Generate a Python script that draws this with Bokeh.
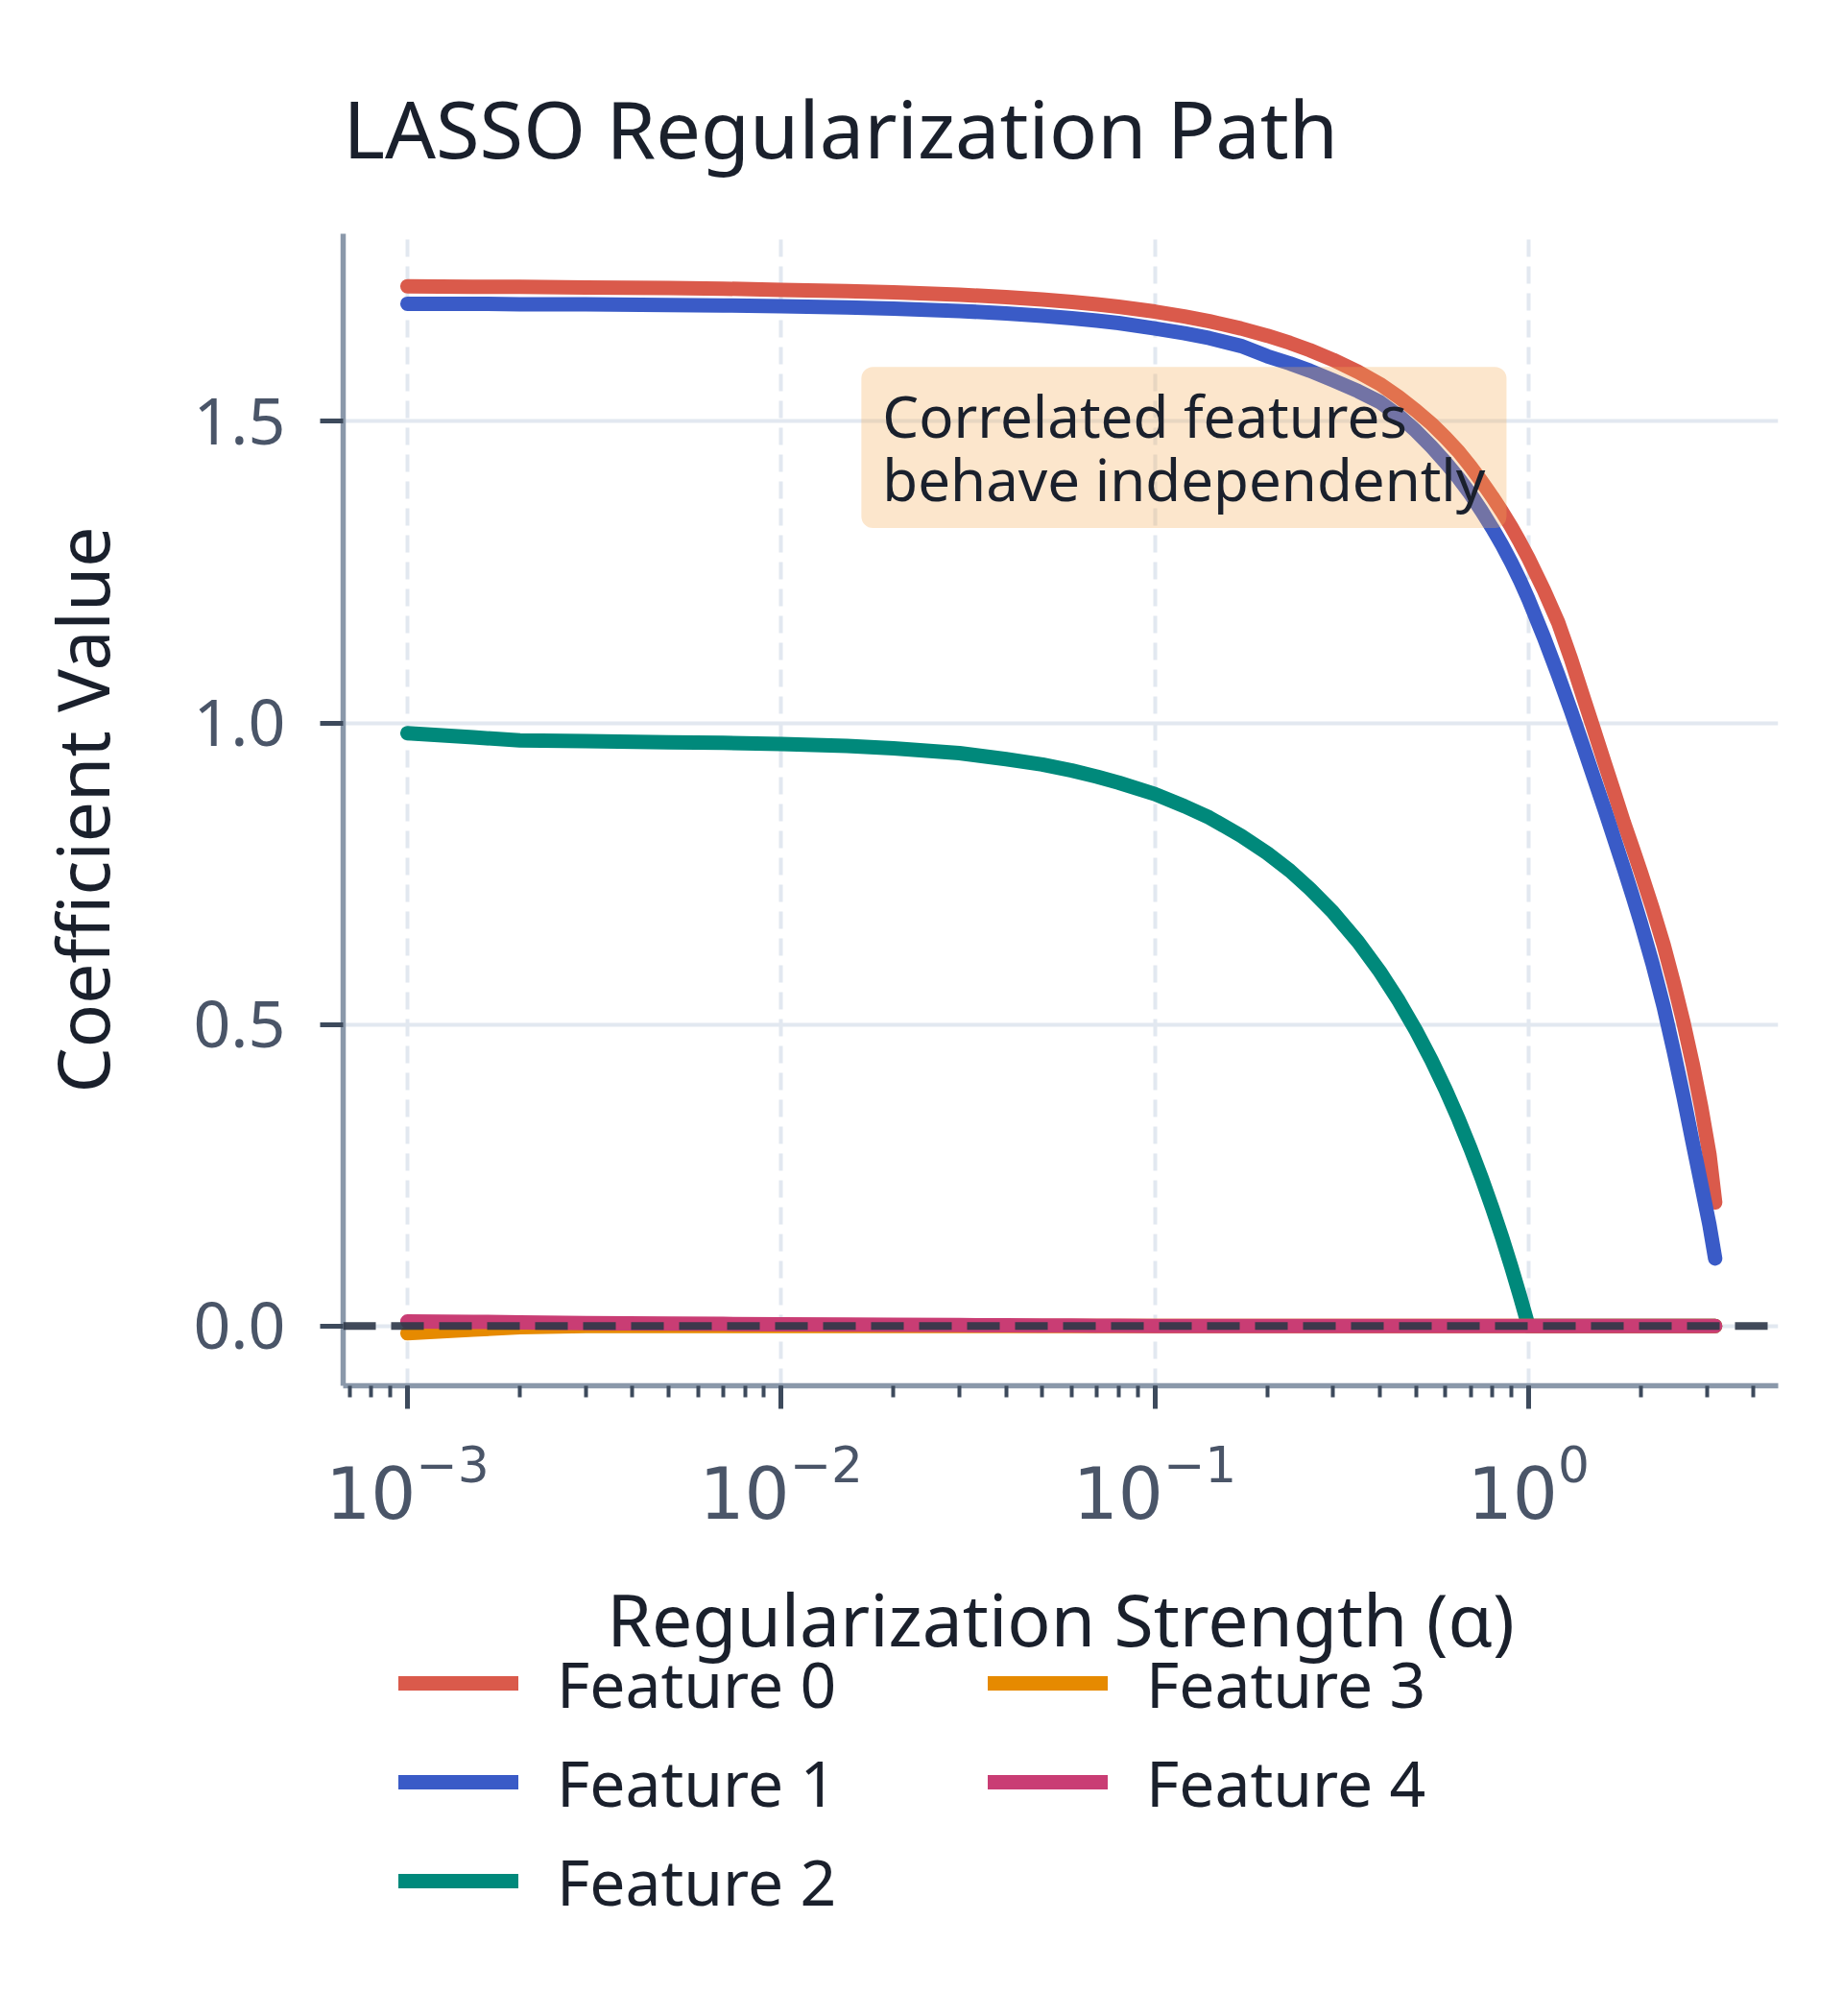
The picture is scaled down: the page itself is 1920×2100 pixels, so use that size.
from bokeh.plotting import figure
from bokeh.layouts import column
from bokeh.models import (Range1d, Span, Label, Legend, LegendItem,
                          FixedTicker, PrintfTickFormatter)
from bokeh.embed import file_html
from bokeh.resources import INLINE

# regularization strengths (alpha) and coefficient values
alphas = [0.001, 0.0015, 0.002, 0.003, 0.005, 0.007, 0.01, 0.015, 0.02, 0.03,
          0.04, 0.05, 0.06, 0.07, 0.08, 0.1, 0.12, 0.14, 0.17, 0.2, 0.23,
          0.26, 0.3, 0.35, 0.4, 0.45, 0.5, 0.55, 0.6, 0.65, 0.7, 0.75, 0.8,
          0.85, 0.9, 0.95, 1.0, 1.1, 1.2, 1.3, 1.4, 1.5, 1.6, 1.7, 1.8, 1.9,
          2.0, 2.15, 2.3, 2.45, 2.6, 2.75, 2.9, 3.05, 3.16]

feature_0 = [1.724, 1.723, 1.723, 1.722, 1.721, 1.720, 1.718, 1.716, 1.714,
             1.710, 1.706, 1.702, 1.698, 1.694, 1.690, 1.682, 1.674, 1.666,
             1.654, 1.642, 1.630, 1.618, 1.602, 1.582, 1.562, 1.540, 1.518,
             1.496, 1.473, 1.450, 1.425, 1.400, 1.375, 1.350, 1.325, 1.299,
             1.273, 1.220, 1.167, 1.106, 1.044, 0.987, 0.933, 0.883, 0.835,
             0.793, 0.752, 0.692, 0.632, 0.568, 0.503, 0.435, 0.363, 0.285,
             0.205]
feature_1 = [1.695, 1.695, 1.694, 1.694, 1.693, 1.692, 1.691, 1.689, 1.687,
             1.683, 1.679, 1.675, 1.671, 1.667, 1.663, 1.654, 1.646, 1.638,
             1.625, 1.608, 1.596, 1.584, 1.568, 1.550, 1.532, 1.509, 1.484,
             1.458, 1.432, 1.406, 1.379, 1.351, 1.323, 1.295, 1.266, 1.236,
             1.205, 1.142, 1.080, 1.020, 0.962, 0.907, 0.856, 0.806, 0.759,
             0.713, 0.668, 0.600, 0.530, 0.455, 0.380, 0.305, 0.235, 0.168,
             0.112]
feature_2 = [0.983, 0.976, 0.971, 0.970, 0.968, 0.967, 0.965, 0.962, 0.958,
             0.950, 0.940, 0.931, 0.921, 0.911, 0.901, 0.882, 0.862, 0.843,
             0.813, 0.784, 0.755, 0.725, 0.686, 0.637, 0.588, 0.539, 0.490,
             0.441, 0.392, 0.343, 0.294, 0.245, 0.196, 0.147, 0.098, 0.049,
             0.0, 0.0, 0.0, 0.0, 0.0, 0.0, 0.0, 0.0, 0.0,
             0.0, 0.0, 0.0, 0.0, 0.0, 0.0, 0.0, 0.0, 0.0,
             0.0]
feature_3 = [-0.012, -0.006, -0.002, 0.0, 0.0, 0.0, 0.0, 0.0, 0.0,
             0.0, 0.0, 0.0, 0.0, 0.0, 0.0, 0.0, 0.0, 0.0,
             0.0, 0.0, 0.0, 0.0, 0.0, 0.0, 0.0, 0.0, 0.0,
             0.0, 0.0, 0.0, 0.0, 0.0, 0.0, 0.0, 0.0, 0.0,
             0.0, 0.0, 0.0, 0.0, 0.0, 0.0, 0.0, 0.0, 0.0,
             0.0, 0.0, 0.0, 0.0, 0.0, 0.0, 0.0, 0.0, 0.0,
             0.0]
feature_4 = [0.0075, 0.007, 0.006, 0.005, 0.004, 0.0035, 0.003, 0.0025, 0.002,
             0.0015, 0.0012, 0.001, 0.0008, 0.0006, 0.0004, 0.0, 0.0, 0.0,
             0.0, 0.0, 0.0, 0.0, 0.0, 0.0, 0.0, 0.0, 0.0,
             0.0, 0.0, 0.0, 0.0, 0.0, 0.0, 0.0, 0.0, 0.0,
             0.0, 0.0, 0.0, 0.0, 0.0, 0.0, 0.0, 0.0, 0.0,
             0.0, 0.0, 0.0, 0.0, 0.0, 0.0, 0.0, 0.0, 0.0,
             0.0]

names = ["Feature 0", "Feature 1", "Feature 2", "Feature 3", "Feature 4"]
series = [feature_0, feature_1, feature_2, feature_3, feature_4]
colors = ["#da5a4b", "#3a5bc7", "#00897b", "#e68a00", "#c93d74"]

y_ticks = [0.0, 0.5, 1.0, 1.5]

FONT = "Noto Sans"
DARK = "#1a202c"
LEFT, FRAME_W, RIGHT = 357, 1495, 40

p = figure(title="LASSO Regularization Path", x_axis_type="log",
           x_range=Range1d(6.73e-4, 4.66), y_range=Range1d(-0.099, 1.811),
           frame_width=FRAME_W, frame_height=1200,
           min_border_left=LEFT, min_border_top=243,
           min_border_bottom=155, min_border_right=RIGHT,
           output_backend="svg", toolbar_location=None,
           y_axis_label="Coefficient Value")

p.outline_line_color = None
p.title.text_font = FONT
p.title.text_font_size = "83px"
p.title.text_font_style = "normal"
p.title.text_color = DARK
p.title.align = "left"
p.title.standoff = 110

# grid
p.xgrid.grid_line_color = "#e2e8f0"
p.xgrid.grid_line_width = 4
p.xgrid.grid_line_dash = "18 10"
p.ygrid.grid_line_color = "#e2e8f0"
p.ygrid.grid_line_width = 4

# axes
for ax in (p.xaxis[0], p.yaxis[0]):
    ax.axis_line_color = "#8a98aa"
    ax.axis_line_width = 5.5
    ax.major_tick_line_color = "#3d4a5c"
    ax.major_tick_line_width = 5
    ax.major_tick_in = 0
    ax.major_tick_out = 24
    ax.minor_tick_line_color = "#3d4a5c"
    ax.minor_tick_line_width = 4
    ax.minor_tick_in = 0
    ax.minor_tick_out = 12
    ax.major_label_text_font = FONT
    ax.major_label_text_color = "#4a5568"
    ax.axis_label_text_font = FONT
    ax.axis_label_text_font_size = "75px"
    ax.axis_label_text_font_style = "normal"
    ax.axis_label_text_color = DARK

p.yaxis.ticker = FixedTicker(ticks=y_ticks, minor_ticks=[])
p.yaxis.formatter = PrintfTickFormatter(format="%.1f")
p.yaxis.major_label_text_font_size = "68px"
p.yaxis.major_label_standoff = 36
p.yaxis.axis_label_standoff = 62
p.xaxis.major_label_text_font = "DejaVu Sans"
p.xaxis.major_label_text_font_size = "74px"
p.xaxis.major_label_standoff = 34

for ys, color in zip(series, colors):
    p.line(alphas, ys, line_color=color, line_width=15,
           line_cap="round", line_join="round")

zero = Span(location=0, dimension="width", line_color="#2d3748",
            line_alpha=0.9, line_width=8, line_dash="34 16")
p.add_layout(zero)

note = Label(x=0.0164, y=1.59, text="Correlated features\nbehave independently",
             text_font=FONT, text_font_size="60px", text_color=DARK,
             text_align="left", text_baseline="top", anchor="top_left",
             background_fill_color="#f6ad55", background_fill_alpha=0.3,
             padding=(22, 10), border_radius=12, text_line_height=0.8)
p.add_layout(note)

# strip under the plot: x-axis title and the two-column legend
LEG_H = 465
lf = figure(frame_width=FRAME_W, frame_height=LEG_H,
            min_border_left=LEFT, min_border_right=RIGHT,
            min_border_top=0, min_border_bottom=0,
            x_range=Range1d(LEFT, LEFT + FRAME_W), y_range=Range1d(LEG_H, 0),
            x_axis_location=None, y_axis_location=None,
            output_backend="svg", toolbar_location=None)
lf.grid.visible = False
lf.outline_line_color = None

xtitle = Label(x=LEFT + FRAME_W / 2, y=87, text="Regularization Strength (α)",
               text_font=FONT, text_font_size="75px", text_color=DARK,
               text_align="center", text_baseline="alphabetic")
lf.add_layout(xtitle)

# legend swatches: same series, which fall outside this strip's ranges
items = []
for name, ys, color in zip(names, series, colors):
    r = lf.line(alphas, ys, line_color=color, line_width=15,
                line_cap="round", line_join="round")
    items.append(LegendItem(label=name, renderers=[r]))

legend = Legend(items=items, nrows=3, location=(58, 59),
                glyph_width=125, glyph_height=20, label_standoff=40,
                label_width=436, spacing=13, padding=0, margin=0,
                border_line_color=None, background_fill_alpha=0,
                label_text_font=FONT, label_text_font_size="66px",
                label_text_color=DARK)
lf.add_layout(legend)

layout = column(p, lf, spacing=0)
open("out.html", "w").write(file_html(layout, INLINE))
